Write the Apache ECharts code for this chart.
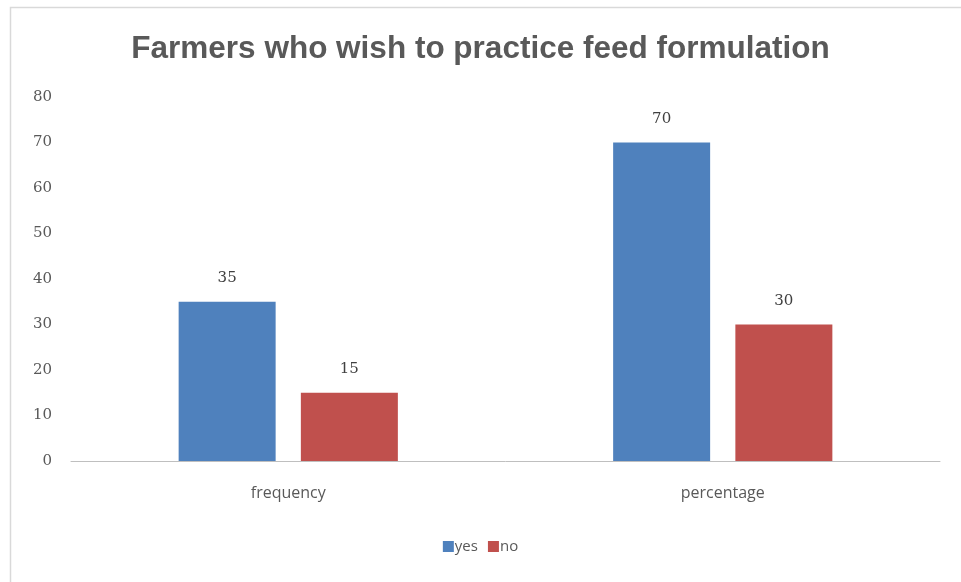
<!DOCTYPE html>
<html>
<head>
<meta charset="utf-8">
<script src="https://cdn.jsdelivr.net/npm/echarts@6/dist/echarts.min.js"></script>
<style>
  html, body { margin: 0; padding: 0; background: #fff; }
  #chart { width: 961px; height: 582px; }
</style>
</head>
<body>
<div id="chart"></div>
<script>
var categories = ['frequency', 'percentage']
var yesValues = [35, 70]
var noValues = [15, 30]
var yTicks = { min: 0, max: 80, interval: 10 }

var chart = echarts.init(document.getElementById('chart'))

var labelStyle = {
  show: true,
  position: 'top',
  distance: 16,
  color: '#404040',
  fontFamily: 'DejaVu Serif',
  fontSize: 15
}

chart.setOption({
  animation: false,
  graphic: [{
    type: 'rect',
    shape: { x: 10.5, y: 7.5, width: 1000, height: 1000 },
    style: { fill: 'none', stroke: '#d9d9d9', lineWidth: 1.5 },
    silent: true
  }],
  title: {
    text: 'Farmers who wish to practice feed formulation',
    left: 'center',
    top: 28,
    textStyle: {
      color: '#595959',
      fontFamily: 'Liberation Sans',
      fontWeight: 'bold',
      fontSize: 31.5
    }
  },
  grid: {
    left: 71,
    right: 21,
    top: 97,
    bottom: 121
  },
  legend: {
    bottom: 23,
    left: 'center',
    icon: 'rect',
    itemWidth: 11,
    itemHeight: 11,
    itemGap: 10,
    textStyle: { color: '#595959', fontSize: 15, fontFamily: 'Open Sans', padding: [0, 0, 0, -4] },
    data: ['yes', 'no']
  },
  xAxis: {
    type: 'category',
    data: categories,
    axisLine: { lineStyle: { color: '#bfbfbf' } },
    axisTick: { show: false },
    axisLabel: { color: '#595959', fontSize: 16, fontFamily: 'Open Sans', margin: 24 }
  },
  yAxis: {
    type: 'value',
    min: yTicks.min,
    max: yTicks.max,
    interval: yTicks.interval,
    axisLine: { show: false },
    axisTick: { show: false },
    splitLine: { show: false },
    axisLabel: { color: '#595959', fontSize: 15, fontFamily: 'DejaVu Serif', margin: 19 }
  },
  series: [
    {
      name: 'yes',
      type: 'bar',
      data: yesValues,
      barWidth: 97,
      barGap: '26%',
      itemStyle: { color: '#4f81bd' },
      label: labelStyle
    },
    {
      name: 'no',
      type: 'bar',
      data: noValues,
      barWidth: 97,
      itemStyle: { color: '#c0504d' },
      label: labelStyle
    }
  ]
})
</script>
</body>
</html>
